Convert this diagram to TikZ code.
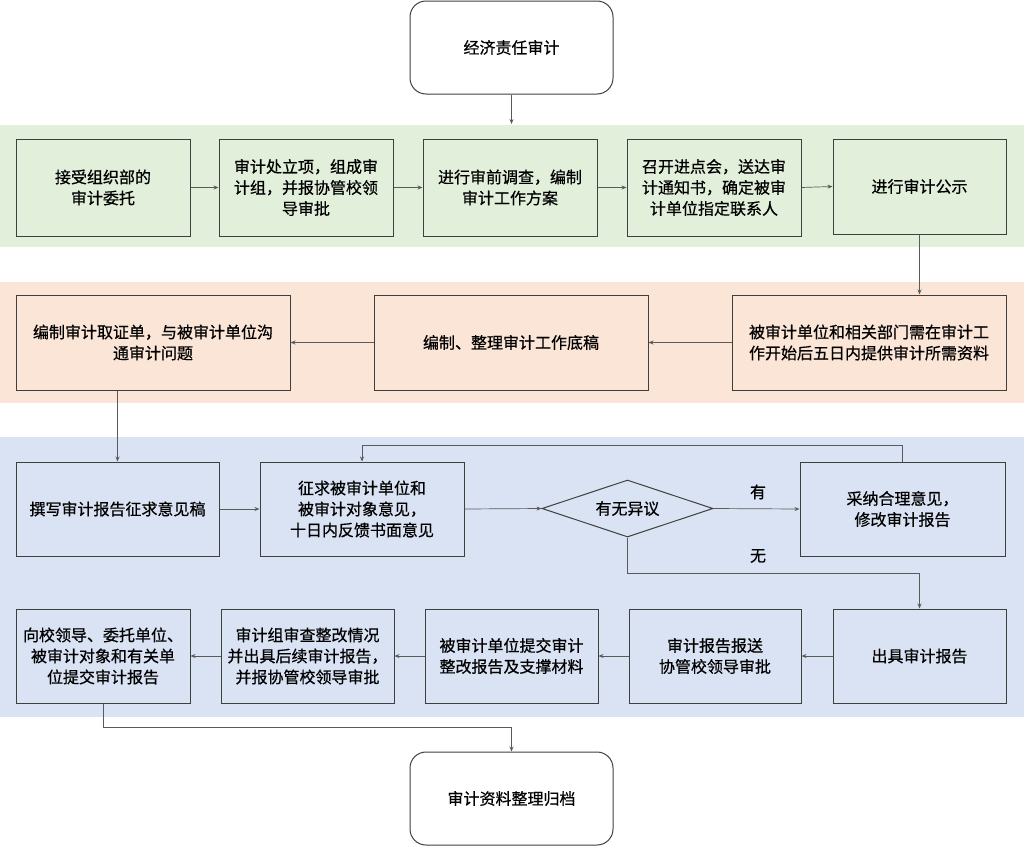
\documentclass[tikz,border=0pt]{standalone}
\usepackage{fontspec}
\setmainfont{Noto Sans CJK SC}[FakeBold=0.6]
\usetikzlibrary{arrows.meta,shapes.geometric}
\definecolor{bandgreen}{HTML}{E2EFDA}
\definecolor{bandorange}{HTML}{FBE5D6}
\definecolor{bandblue}{HTML}{DAE3F3}
\definecolor{edgegray}{HTML}{3F3F3F}
\definecolor{linegray}{HTML}{5A5A5A}
\tikzset{
  stepbox/.style={draw=edgegray, line width=1pt, align=center, inner sep=2pt,
    font=\fontsize{16}{21}\selectfont},
  endbox/.style={stepbox, rounded corners=16pt, minimum width=203pt, minimum height=93pt},
  decide/.style={draw=edgegray, line width=1pt, diamond, aspect=3, inner sep=0pt,
    minimum width=171pt, minimum height=57pt, font=\fontsize{16}{21}\selectfont},
  conn/.style={draw=linegray, line width=0.7pt, -{Stealth[length=5pt,width=4pt]}},
  lbl/.style={font=\fontsize{16}{21}\selectfont},
}
\begin{document}
\begin{tikzpicture}[x=1pt,y=-1pt]
\useasboundingbox (0,0) rectangle (1024,846);
\fill[white] (0,0) rectangle (1024,846);
% bands
\fill[bandgreen] (0,125) rectangle (1024,247);
\fill[bandorange] (0,282) rectangle (1024,403);
\fill[bandblue] (0,437) rectangle (1024,717);

% ends
\node[endbox] (top) at (511.5,47.5) {经济责任审计};
\node[endbox] (bot) at (511.5,798.5) {审计资料整理归档};
\coordinate (bandtop) at (511.5,124);

% row 1
\node[stepbox, minimum width=174pt, minimum height=97pt] (b1) at (103,187.5) {接受组织部的\\审计委托};
\node[stepbox, minimum width=174pt, minimum height=97pt] (b2) at (306,187.5) {审计处立项，组成审\\计组，并报协管校领\\导审批};
\node[stepbox, minimum width=174pt, minimum height=97pt] (b3) at (510,187.5) {进行审前调查，编制\\审计工作方案};
\node[stepbox, minimum width=174pt, minimum height=97pt] (b4) at (714,187.5) {召开进点会，送达审\\计通知书，确定被审\\计单位指定联系人};
\node[stepbox, minimum width=173pt, minimum height=95pt] (b5) at (919.5,186.5) {进行审计公示};

% row 2
\node[stepbox, minimum width=274pt, minimum height=95pt] (c3) at (869,342.5) {被审计单位和相关部门需在审计工\\作开始后五日内提供审计所需资料};
\node[stepbox, minimum width=274pt, minimum height=95pt] (c2) at (511,342.5) {编制、整理审计工作底稿};
\node[stepbox, minimum width=274pt, minimum height=95pt] (c1) at (153,342.5) {编制审计取证单，与被审计单位沟\\通审计问题};

% row 3
\node[stepbox, minimum width=203pt, minimum height=94pt] (r1) at (117.5,509) {撰写审计报告征求意见稿};
\node[stepbox, minimum width=204pt, minimum height=94pt] (r2) at (362,509) {征求被审计单位和\\被审计对象意见，\\十日内反馈书面意见};
\node[decide] (d) at (627.5,508.5) {有无异议};
\node[stepbox, minimum width=205pt, minimum height=94pt] (r4) at (902.5,509) {采纳合理意见，\\修改审计报告};

% row 4
\node[stepbox, minimum width=173pt, minimum height=94pt] (s5) at (919.5,656) {出具审计报告};
\node[stepbox, minimum width=172pt, minimum height=94pt] (s4) at (715,656) {审计报告报送\\协管校领导审批};
\node[stepbox, minimum width=173pt, minimum height=94pt] (s3) at (511.5,656) {被审计单位提交审计\\整改报告及支撑材料};
\node[stepbox, minimum width=173pt, minimum height=94pt] (s2) at (307.5,656) {审计组审查整改情况\\并出具后续审计报告，\\并报协管校领导审批};
\node[stepbox, minimum width=174pt, minimum height=94pt] (s1) at (103,656) {向校领导、委托单位、\\被审计对象和有关单\\位提交审计报告};

% labels
\node[lbl] (yes) at (758,492) {有};
\node[lbl] (no) at (758,556) {无};

% connectors
\draw[conn] (top.south) -- (bandtop);
\draw[conn] (b1.east) -- (b2.west);
\draw[conn] (b2.east) -- (b3.west);
\draw[conn] (b3.east) -- (b4.west);
\draw[conn] (b4.east) -- (b5.west);
\draw[conn] (b5.south) -- (b5.south |- c3.north);
\draw[conn] (c3.west) -- (c2.east);
\draw[conn] (c2.west) -- (c1.east);
\draw[conn] (r1.north |- c1.south) -- (r1.north);
\draw[conn] (r1.east) -- (r2.west);
\draw[conn] (r2.east) -- (d.west);
\draw[conn] (d.east) -- (r4.west);
\draw[conn] (r4.north) -- ++(0,-16) -| (r2.north);
\draw[conn] (d.south) -- ++(0,36) -| (s5.north);
\draw[conn] (s5.west) -- (s4.east);
\draw[conn] (s4.west) -- (s3.east);
\draw[conn] (s3.west) -- (s2.east);
\draw[conn] (s2.west) -- (s1.east);
\draw[conn] (s1.south) -- ++(0,24) -| (bot.north);
\end{tikzpicture}
\end{document}
